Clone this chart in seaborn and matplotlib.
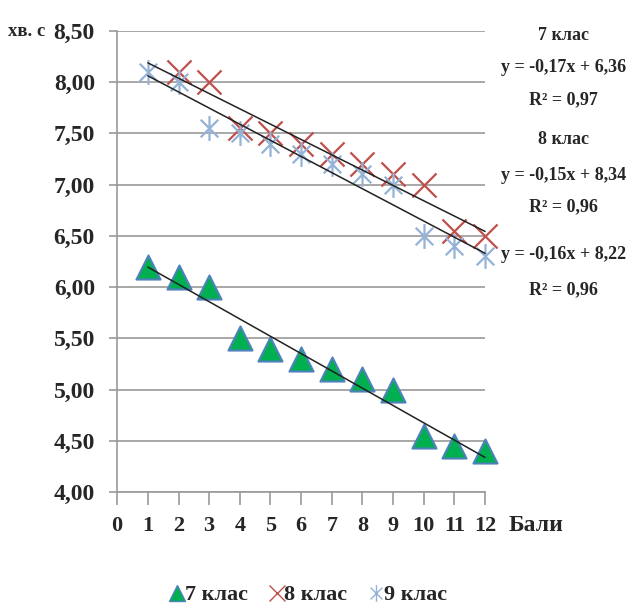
import numpy as np
import pandas as pd
import matplotlib
matplotlib.use("Agg")
import matplotlib.pyplot as plt
from matplotlib.path import Path
from matplotlib.lines import Line2D
import seaborn as sns

# ---- data ----
x7 = [1, 2, 3, 4, 5, 6, 7, 8, 9, 10, 11, 12]
y7 = [6.2, 6.1, 6.0, 5.5, 5.4, 5.3, 5.2, 5.1, 5.0, 4.55, 4.45, 4.4]
x8 = [2, 3, 4, 5, 6, 7, 8, 9, 10, 11, 12]
y8 = [8.1, 8.0, 7.55, 7.5, 7.4, 7.3, 7.2, 7.1, 7.0, 6.55, 6.5]
x9 = [1, 2, 3, 4, 5, 6, 7, 8, 9, 10, 11, 12]
y9 = [8.1, 8.0, 7.55, 7.5, 7.4, 7.3, 7.2, 7.1, 7.0, 6.5, 6.4, 6.3]
series_names = ["7 клас", "8 клас", "9 клас"]
x_ticks = list(range(0, 13))
y_ticks = [4.0, 4.5, 5.0, 5.5, 6.0, 6.5, 7.0, 7.5, 8.0, 8.5]
eq_lines = [
    "7 клас", "y = -0,17x + 6,36", "R² = 0,97",
    "8 клас", "y = -0,15x + 8,34", "R² = 0,96",
    "y = -0,16x + 8,22", "R² = 0,96",
]

df = pd.concat([
    pd.DataFrame({"x": x7, "y": y7, "s": series_names[0]}),
    pd.DataFrame({"x": x8, "y": y8, "s": series_names[1]}),
    pd.DataFrame({"x": x9, "y": y9, "s": series_names[2]}),
])

sns.set_theme(style="white")
plt.rcParams["font.family"] = ["Liberation Serif", "DejaVu Serif"]
plt.rcParams["font.weight"] = "bold"

fig = plt.figure(figsize=(6.3, 6.06), dpi=100)
ax = fig.add_axes([0.186, 0.188, 0.584, 0.761])

# asterisk marker (vertical + X)
d = 0.7071
star = Path([(0, -1), (0, 1), (-d, -d), (d, d), (-d, d), (d, -d)],
            [Path.MOVETO, Path.LINETO, Path.MOVETO, Path.LINETO, Path.MOVETO, Path.LINETO])

green, blue_edge = "#00b050", "#4f81bd"
red, lblue = "#c0504d", "#95b3d7"

sub7 = df[df.s == series_names[0]]
sub8 = df[df.s == series_names[1]]
sub9 = df[df.s == series_names[2]]

sns.scatterplot(data=sub7, x="x", y="y", ax=ax, marker="^", s=300,
                color=green, edgecolor=blue_edge, linewidth=1.5, zorder=3)
sns.scatterplot(data=sub8, x="x", y="y", ax=ax, marker="x", s=300,
                color=red, linewidth=1.6, zorder=3)
sns.scatterplot(data=sub9, x="x", y="y", ax=ax, marker=star, s=320,
                color=lblue, edgecolor=lblue, linewidth=1.6, zorder=3)
for coll in ax.collections:
    coll.set_clip_on(False)

# trend lines
for xs, ys in [(x7, y7), (x8, y8), (x9, y9)]:
    k, b = np.polyfit(xs, ys, 1)
    xx = np.array([1, 12])
    ax.plot(xx, k * xx + b, color="#222222", lw=1.1, zorder=4, clip_on=False)

ax.set_xlim(0, 12)
ax.set_ylim(4.0, 8.5)
ax.set_xticks(x_ticks)
ax.set_yticks(y_ticks)
ax.set_yticklabels([f"{v:.2f}".replace(".", ",") for v in y_ticks])
ax.set_xlabel("")
ax.set_ylabel("")
ax.yaxis.grid(True, color="#9a9a9a", lw=1.2)
ax.xaxis.grid(False)
for sp in ["top", "right"]:
    ax.spines[sp].set_visible(False)
for sp in ["left", "bottom"]:
    ax.spines[sp].set_color("#9a9a9a")
    ax.spines[sp].set_linewidth(1.2)
ax.tick_params(axis="x", which="major", direction="out", length=9, width=1.2,
               color="#9a9a9a", labelsize=16, pad=8, bottom=True)
ax.tick_params(axis="y", which="major", direction="out", length=6, width=1.2,
               color="#9a9a9a", labelsize=17, pad=10, left=True)
for lab in ax.get_xticklabels() + ax.get_yticklabels():
    lab.set_fontweight("bold")

fig.text(0.012, 0.948, "хв. с", fontsize=13.5, fontweight="bold", ha="left", va="center")
fig.text(0.808, 0.133, "Бали", fontsize=17, fontweight="bold", ha="left", va="center")

ys_px = [35, 67, 100, 140, 175, 207, 255, 290]
for t, yp in zip(eq_lines, ys_px):
    fig.text(0.895, 1 - yp / 606, t, fontsize=13, fontweight="bold",
             ha="center", va="center")

# legend
handles = [
    Line2D([], [], ls="none", marker="^", ms=12, mfc=green, mec=blue_edge, mew=1),
    Line2D([], [], ls="none", marker="x", ms=12, mec=red, mew=1),
    Line2D([], [], ls="none", marker=star, ms=12, mec=lblue, mew=1),
]
fig.legend(handles, series_names, loc="center", bbox_to_anchor=(0.49, 0.018),
           ncol=3, frameon=False, handlelength=0.6,
           handletextpad=0.05, columnspacing=1.0, prop={"weight": "bold", "size": 16})

fig.savefig("out.png", dpi=100)
